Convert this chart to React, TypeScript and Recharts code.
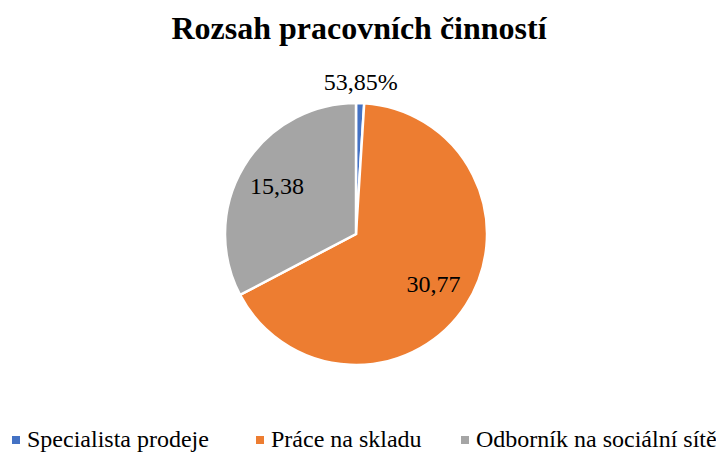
import { PieChart, Pie, Cell } from 'recharts';

const categories = ['Specialista prodeje', 'Práce na skladu', 'Odborník na sociální sítě'];
const shares = [1.0, 66.3, 32.7];
const labelTexts = ['53,85%', '30,77', '15,38'];
const colors = ['#4472C4', '#ED7D31', '#A5A5A5'];

const data = categories.map((name, i) => ({ name, value: shares[i], text: labelTexts[i] }));

const RAD = Math.PI / 180;
const FONT = 'Liberation Serif, Times New Roman, Times, serif';

// labels: first slice sits outside, the others inside
function renderLabel(props: any) {
  const { cx, cy, midAngle, outerRadius, index } = props;
  const r = index === 0 ? outerRadius + 21 : outerRadius * 0.705;
  const x = cx + r * Math.cos(-midAngle * RAD);
  const y = cy + r * Math.sin(-midAngle * RAD);
  return (
    <text
      x={x}
      y={y}
      textAnchor="middle"
      dominantBaseline="central"
      fill="#000"
      style={{ fontFamily: FONT, fontSize: 24 }}
    >
      {labelTexts[index]}
    </text>
  );
}

export default function App() {
  return (
    <div style={{ position: 'absolute', left: 0, top: 0, width: 716, height: 452, background: '#fff', overflow: 'hidden', fontFamily: FONT }}>
      <div
        style={{
          position: 'absolute',
          left: 0,
          top: 8,
          width: 718,
          textAlign: 'center',
          fontWeight: 'bold',
          fontSize: 32,
          lineHeight: '40px',
        }}
      >
        Rozsah pracovních činností
      </div>
      <PieChart width={716} height={452} margin={{ top: 0, right: 0, bottom: 0, left: 0 }}>
        <Pie
          data={data}
          dataKey="value"
          nameKey="name"
          cx={356}
          cy={234}
          outerRadius={131}
          startAngle={90}
          endAngle={-270}
          stroke="#fff"
          strokeWidth={2.5}
          label={renderLabel}
          labelLine={false}
          isAnimationActive={false}
        >
          {data.map((d, i) => (
            <Cell key={d.name} fill={colors[i]} />
          ))}
        </Pie>
      </PieChart>
      {/* legend */}
      {categories.map((name, i) => {
        const lefts = [12, 256, 461];
        return (
          <div
            key={name}
            style={{
              position: 'absolute',
              left: lefts[i],
              top: 424,
              height: 30,
              display: 'flex',
              alignItems: 'center',
              fontSize: 24,
              whiteSpace: 'nowrap',
            }}
          >
            <span style={{ display: 'inline-block', width: 8, height: 8, background: colors[i], marginRight: 7, marginTop: 2 }} />
            {name}
          </div>
        );
      })}
    </div>
  );
}
